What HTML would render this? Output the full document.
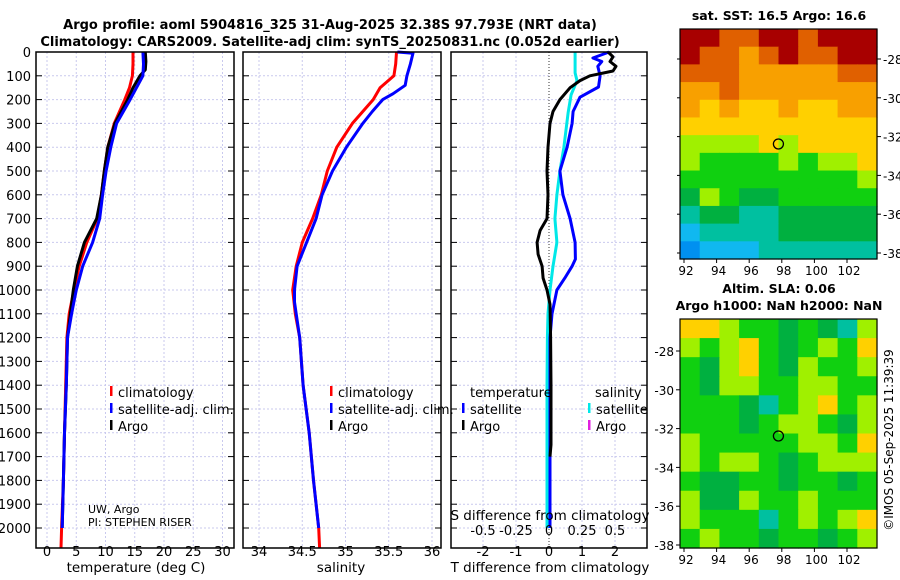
<!DOCTYPE html>
<html><head><meta charset="utf-8"><style>
html,body{margin:0;padding:0;background:#fff;}
svg{display:block;font-family:"DejaVu Sans","Liberation Sans",sans-serif;}
</style></head><body>
<svg id="fig" width="900" height="580" viewBox="0 0 900 580" xmlns="http://www.w3.org/2000/svg">
<text x="330" y="29" font-size="13" font-weight="bold" text-anchor="middle">Argo profile: aoml 5904816_325 31-Aug-2025 32.38S 97.793E (NRT data)</text>
<text x="330" y="46" font-size="13" font-weight="bold" text-anchor="middle">Climatology: CARS2009. Satellite-adj clim: synTS_20250831.nc (0.052d earlier)</text>
<text x="779" y="20" font-size="12.5" font-weight="bold" text-anchor="middle">sat. SST: 16.5 Argo: 16.6</text>
<text x="779" y="293" font-size="12.5" font-weight="bold" text-anchor="middle">Altim. SLA: 0.06</text>
<text x="779" y="310" font-size="12.5" font-weight="bold" text-anchor="middle">Argo h1000: NaN h2000: NaN</text>
<text transform="translate(893,440) rotate(-90)" font-size="12" text-anchor="middle">©IMOS 05-Sep-2025 11:39:39</text>
<g id="layer"></g>
</svg>
<script>
// ---- profile data ----
const tempDepths = [0,50,100,150,200,300,400,500,600,700,800,900,1000,1100,1200,1400,1600,1800,2000,2084];
const tempClim   = [14.7,14.7,14.6,14.1,13.3,11.5,10.4,9.8,9.3,8.6,6.8,5.5,4.6,3.8,3.4,3.2,3.0,2.8,2.5,2.4];
const tempSatDepths = [0,50,100,150,200,300,400,500,600,700,800,900,1000,1050,1100,1200,1400,1600,1800,2000];
const tempSat    = [16.4,16.5,16.4,15.3,14.2,11.9,10.9,10.1,9.5,9.0,7.8,6.1,5.0,4.6,4.2,3.5,3.3,3.0,2.8,2.6];
const argoDepths = [0,40,75,100,150,200,300,400,500,600,700,800,900,1000,1100,1200,1400,1600,1800,2000];
const tempArgo   = [16.8,16.9,16.8,15.9,14.7,13.8,11.6,10.4,9.8,9.3,8.5,6.4,5.2,4.5,4.0,3.5,3.3,3.0,2.8,2.6];
const salDepths  = [0,50,100,150,200,250,300,400,500,600,700,800,900,1000,1100,1200,1400,1600,1800,2000,2084];
const salClim    = [35.59,35.58,35.56,35.40,35.32,35.2,35.08,34.9,34.79,34.72,34.62,34.5,34.43,34.39,34.42,34.47,34.51,34.58,34.63,34.69,34.70];
const salSatDepths = [0,5,50,100,140,175,200,250,300,400,500,600,700,800,900,1000,1050,1100,1200,1400,1600,1800,2000];
const salSat     = [35.6,35.78,35.75,35.71,35.69,35.55,35.43,35.31,35.2,35.01,34.85,34.73,34.66,34.55,34.44,34.41,34.41,34.43,34.47,34.51,34.58,34.63,34.69];
// difference panel (T-axis units)
const diffCyanDepths = [0,88,120,180,256,400,500,600,700,800,900,1000,1100,1200,1400,2000];
const diffCyan   = [0.79,0.79,0.85,0.67,0.58,0.45,0.33,0.24,0.18,0.24,0.12,0.03,-0.03,-0.05,-0.06,-0.06];
const diffSatDepths = [0,25,40,60,100,147,190,250,300,400,500,600,700,800,870,900,950,1000,1100,1200,1400,2000];
const diffSat    = [1.82,1.33,1.6,1.48,1.55,1.5,0.94,0.73,0.70,0.55,0.33,0.42,0.64,0.79,0.8,0.7,0.48,0.24,0.09,0.03,0.03,0.03];
const diffArgoDepths = [0,20,40,60,80,100,120,150,200,250,300,400,500,600,700,750,800,850,900,950,1000,1060,1200,1400,1650,1700];
const diffArgo   = [1.79,1.94,1.85,2.03,1.94,1.24,0.94,0.64,0.33,0.12,0.03,-0.03,-0.06,-0.03,-0.06,-0.27,-0.36,-0.33,-0.21,-0.18,-0.06,0.03,0.05,0.06,0.06,0.03];
const depthTicks = [0,100,200,300,400,500,600,700,800,900,1000,1100,1200,1300,1400,1500,1600,1700,1800,1900,2000];
const tempTicks = [0,5,10,15,20,25,30];
const salTicks = [34,34.5,35,35.5,36];
const tDiffTicks = [-2,-1,0,1,2];
const sDiffTicks = [-0.5,-0.25,0,0.25,0.5];
// ---- maps (colour level 0=blue .. 10=dark red) ----
const sstGrid = [
[10,10,9,9,10,10,9,10,10,10],
[10,9,9,8,9,10,9,9,10,10],
[9,9,9,8,8,8,8,8,9,9],
[8,8,9,8,8,8,8,8,8,8],
[8,7,8,7,7,8,7,7,8,8],
[7,7,7,7,7,7,7,7,7,7],
[6,6,6,6,7,6,7,7,7,7],
[6,5,5,5,5,6,5,6,6,7],
[5,5,5,5,5,5,5,5,5,6],
[4,6,5,4,4,5,5,5,5,5],
[3,4,4,3,3,4,4,4,4,4],
[2,3,3,3,3,4,4,4,4,4],
[1,2,2,2,3,3,3,3,3,3]];
const slaGrid = [
[7,7,6,5,5,4,5,4,3,6],
[6,5,6,7,5,4,5,6,5,7],
[5,4,6,7,5,4,6,5,5,6],
[5,4,6,6,5,5,6,6,5,5],
[5,5,5,4,3,5,6,7,5,6],
[5,5,5,4,5,6,6,5,4,6],
[6,5,5,5,5,5,6,6,5,7],
[6,5,6,6,5,4,5,6,6,6],
[5,4,4,5,5,4,5,5,4,5],
[6,4,4,6,5,5,6,5,5,5],
[6,5,5,5,3,5,6,5,6,7],
[5,6,5,5,4,5,5,4,5,6]];
const lonTicks = [92,94,96,98,100,102];
const latTicks = [-28,-30,-32,-34,-36,-38];
const floatLon = 97.793, floatLat = -32.38;

const NS="http://www.w3.org/2000/svg";
const L=document.getElementById('layer');
function mk(tag,attrs,parent){const e=document.createElementNS(NS,tag);for(const k in attrs)e.setAttribute(k,attrs[k]);(parent||L).appendChild(e);return e;}
function txt(s,x,y,size,anchor,parent){const t=mk('text',{x:x,y:y,'font-size':size,'text-anchor':anchor||'middle'},parent);t.textContent=s;return t;}

const Y0=52,Y1=548;
function yD(d){return Y0+d*0.238;}
const panels=[{x0:36,x1:234},{x0:243,x1:441},{x0:451,x1:647}];
function xT(v){return 47+v*5.85;}
function xS(v){return 259+(v-34)*86.5;}
function xDf(v){return 549+v*33;}
function xSd(v){return 549+v*132;}

const gridXs=[tempTicks.map(xT),salTicks.map(xS),tDiffTicks.filter(v=>v!==0).map(xDf)];
panels.forEach((p,i)=>{
  const g=mk('g',{});
  
  
  gridXs[i].forEach(x=>mk('line',{x1:x,x2:x,y1:Y0,y2:Y1,stroke:'#c9c9ee','stroke-width':1,'stroke-dasharray':'2,2'},g));
  depthTicks.forEach(d=>{mk('line',{x1:p.x0,x2:p.x1,y1:yD(d),y2:yD(d),stroke:'#c9c9ee','stroke-width':1,'stroke-dasharray':'2,2'},g);
    mk('line',{x1:p.x0,x2:p.x0+6,y1:yD(d),y2:yD(d),stroke:'#000'},g);mk('line',{x1:p.x1-6,x2:p.x1,y1:yD(d),y2:yD(d),stroke:'#000'},g);});
});
mk('line',{x1:549,x2:549,y1:Y0,y2:Y1,stroke:'#333','stroke-dasharray':'1,2'});

function line(xs,ds,xf,color,name,w){
  const pts=xs.map((v,i)=>xf(v).toFixed(1)+','+yD(ds[i]).toFixed(1)).join(' ');
  const e=mk('polyline',{points:pts,fill:'none',stroke:color,'stroke-width':w||3,'stroke-linejoin':'round'});
  
  
}
line(tempClim,tempDepths,xT,'#f00','temp-climatology-line');
line(tempArgo,argoDepths,xT,'#000','temp-argo-line');
line(tempSat,tempSatDepths,xT,'#00f','temp-satellite-line');
line(salClim,salDepths,xS,'#f00','sal-climatology-line');
line(salSat,salSatDepths,xS,'#00f','sal-satellite-line');
line(diffCyan,diffCyanDepths,xDf,'#00e8e8','sal-diff-satellite-line');
line(diffSat,diffSatDepths,xDf,'#00f','temp-diff-satellite-line');
line(diffArgo,diffArgoDepths,xDf,'#000','temp-diff-argo-line');

panels.forEach((p,i)=>{const r=mk('rect',{x:p.x0,y:Y0,width:p.x1-p.x0,height:Y1-Y0,fill:'none',stroke:'#000','stroke-width':1.5});
  });

depthTicks.forEach(d=>{const t=txt(String(d),31,yD(d)+5,13,'end');});
tempTicks.forEach(v=>{const t=txt(String(v),xT(v),556,13);});
salTicks.forEach(v=>{const t=txt(String(v),xS(v),556,13);});
tDiffTicks.forEach(v=>{const t=txt(String(v),xDf(v),556,13);});
sDiffTicks.forEach(v=>{const t=txt(String(v),xSd(v),535,13);});
let t;
t=txt('temperature (deg C)',136,572,13.5);
t=txt('salinity',341,572,13.5);
t=txt('T difference from climatology',550,572,13.5);
t=txt('S difference from climatology',550,520,13.5);
t=txt('UW, Argo',88,513,11,'start');
t=txt('PI: STEPHEN RISER',88,526,11,'start');

function leg(x,y,color,label,name){const g=mk('g',{});
  mk('rect',{x:x,y:y-6,width:2.5,height:10,fill:color},g);if(label)txt(label,x+8,y+5,13,'start',g);}
leg(110,392,'#f00','climatology','legend-temp-climatology');
leg(110,409,'#00f','satellite-adj. clim.','legend-temp-satellite');
leg(110,426,'#000','Argo','legend-temp-argo');
leg(330,392,'#f00','climatology','legend-sal-climatology');
leg(330,409,'#00f','satellite-adj. clim.','legend-sal-satellite');
leg(330,426,'#000','Argo','legend-sal-argo');
t=txt('temperature',470,397,13,'start');
t=txt('salinity',595,397,13,'start');
leg(462,409,'#00f','satellite','legend-tdiff-satellite');
leg(462,426,'#000','Argo','legend-tdiff-argo');
leg(588,409,'#00e8e8','satellite','legend-sdiff-satellite');
leg(588,426,'#e020e0','Argo','legend-sdiff-argo');

const pal=['#0050e0','#0090f0','#10b8f0','#00c0a0','#00b040','#10d010','#a0f000','#ffd000','#f8a000','#e06000','#a80000'];
function drawMap(grid,X0,X1,Ya,Yb,tickY0,name,labelsLeft){
  const g=mk('g',{});
  const rows=grid.length,cols=grid[0].length,cw=(X1-X0)/cols,ch=(Yb-Ya)/rows;
  grid.forEach((row,r)=>row.forEach((v,c)=>{const cell=mk('rect',{x:X0+c*cw,y:Ya+r*ch,width:cw+0.6,height:ch+0.6,fill:pal[v]},g);
    }));
  mk('rect',{x:X0,y:Ya,width:X1-X0,height:Yb-Ya,fill:'none',stroke:'#000','stroke-width':1.2},g);
  const xL=lo=>684+(lo-92)*16.3, yL=la=>tickY0+(-28-la)*19.4;
  lonTicks.forEach(lo=>{mk('line',{x1:xL(lo),x2:xL(lo),y1:Yb,y2:Yb+4,stroke:'#000'},g);const tt=txt(String(lo),xL(lo)+2,Yb+16,12,'middle',g);});
  latTicks.forEach(la=>{
    if(labelsLeft){
      mk('line',{x1:X0-4,x2:X0,y1:yL(la),y2:yL(la),stroke:'#000'},g);
      const tt=txt(String(la),X0-6,yL(la)+5,12,'end',g);
    } else {
      mk('line',{x1:X1,x2:X1+4,y1:yL(la),y2:yL(la),stroke:'#000'},g);mk('line',{x1:X0-3,x2:X0,y1:yL(la),y2:yL(la),stroke:'#000'},g);
      const tt=txt(String(la),X1+6,yL(la)+5,12,'start',g);
    }});
  const m=mk('circle',{cx:xL(floatLon),cy:yL(floatLat),r:5,fill:'none',stroke:'#000','stroke-width':1.3},g);
  
}
drawMap(sstGrid,680,877,29,259,59,'sst-map',false);
drawMap(slaGrid,680,877,319,548,351,'sla-map',true);
</script>
</body></html>
